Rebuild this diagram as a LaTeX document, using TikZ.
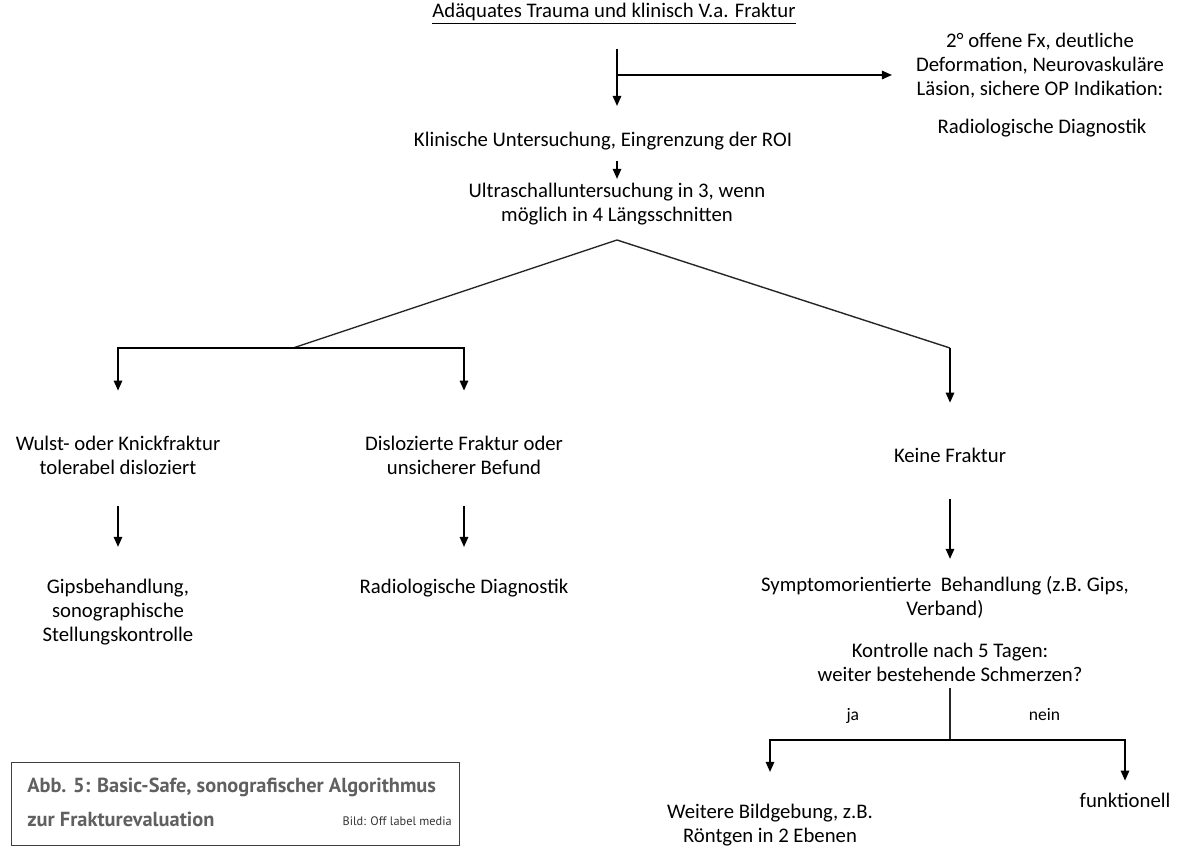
\documentclass[tikz,border=0pt]{standalone}
\usepackage{fontspec}
\setmainfont{Carlito}
\newfontfamily\capfont{PT Sans}
\usetikzlibrary{arrows.meta,positioning}
\definecolor{capgray}{RGB}{96,96,96}
\tikzset{
 txt/.style={align=center,font=\fontsize{11.8}{13.7}\selectfont,inner sep=1pt},
 yesno/.style={font=\fontsize{10}{12}\selectfont,inner sep=0pt,anchor=base},
 arrow/.style={-{Triangle[length=2mm,width=1.7mm]},line width=0.8pt,draw=black},
 branch/.style={line width=0.8pt,draw=black!85},
 capbox/.style={draw=black!75,line width=0.8pt,minimum width=8.96cm,minimum height=1.66cm},
 captext/.style={font=\capfont\bfseries\fontsize{11.6}{14}\selectfont,text=capgray,anchor=west,inner sep=0pt}}

\begin{document}
\begin{tikzpicture}[x=0.02cm,y=-0.02cm]
\useasboundingbox (0,0) rectangle (1185,848);
% upper part
\node[txt] (trauma) at (614,14) {\underline{Adäquates Trauma und klinisch V.a. Fraktur}};
\node[txt] (opind) at (1040,66) {2° offene Fx, deutliche\\Deformation, Neurovaskuläre\\Läsion, sichere OP Indikation:};
\node[txt] (opradio) at (1042,128) {Radiologische Diagnostik};
\node[txt] (klinik) at (603,141) {Klinische Untersuchung, Eingrenzung der ROI};
\node[txt] (us) at (617,204) {Ultraschalluntersuchung in 3, wenn\\möglich in 4 Längsschnitten};
\coordinate (split) at (617,75);
\coordinate (fork) at (617,240);
\coordinate (barL) at (293,348);
\coordinate (barR) at (950,348);
% befunde
\node[txt] (wulst) at (118,455) {Wulst- oder Knickfraktur\\tolerabel disloziert};
\node[txt] (disloz) at (464,455) {Dislozierte Fraktur oder\\unsicherer Befund};
\node[txt] (keine) at (950,455) {Keine Fraktur};
\node[txt] (gips) at (118,612) {Gipsbehandlung,\\sonographische\\Stellungskontrolle};
\node[txt] (radio) at (464,588) {Radiologische Diagnostik};
\node[txt] (sympt) at (945,597) {Symptomorientierte\ \ Behandlung (z.B. Gips,\\Verband)};
\node[txt] (kontr) at (950,662) {Kontrolle nach 5 Tagen:\\weiter bestehende Schmerzen?};
\coordinate (jn) at (950,740);
\node[txt] (weitere) at (770,825) {Weitere Bildgebung, z.B.\\Röntgen in 2 Ebenen};
\node[txt] (funkt) at (1125,800) {funktionell};
% caption
\node[capbox,anchor=north west] (caption) at (11,762) {};
\node[captext] (captitle) at (27,787) {Abb. 5: Basic-Safe, sonografischer Algorithmus};
\node[captext] (capsub) at (27,819) {zur Frakturevaluation};
\node[font=\capfont\fontsize{7}{8}\selectfont,text=black!80,anchor=east,inner sep=0pt] (capsrc) at (452,821) {Bild: Off label media};
% connectors
\draw[arrow,shorten <=4.4mm,shorten >=4.8mm] (trauma.south -| split) -- (klinik.north -| split);
\draw[arrow,shorten >=4.4mm] (split) -- (split -| opind.west);
\draw[arrow,shorten <=1.8mm,shorten >=0.4mm] (klinik.south -| split) -- (us.north -| split);
\draw[branch] (fork) -- (barL);
\draw[branch] (fork) -- (barR);
\draw[arrow,shorten >=8.6mm] (barL) -| (wulst.north);
\draw[arrow,shorten >=8.6mm] (barL) -| (disloz.north);
\draw[arrow,shorten >=8.6mm] (barR) -- (keine.north);
\draw[arrow,shorten <=6mm,shorten >=6mm] (wulst.south) -- (gips.north);
\draw[arrow,shorten <=6mm,shorten >=6mm] (disloz.south) -- (radio.north);
\draw[arrow,shorten <=7mm,shorten >=3mm] (keine.south) -- (sympt.north -| keine);
\draw[branch,shorten <=1mm] (kontr.south) -- (jn);
\draw[arrow,shorten >=6mm] (jn) -| node[pos=0.27,yesno,yshift=4mm]{ja} (weitere.north);
\draw[arrow,shorten >=2mm] (jn) -| node[pos=0.27,yesno,yshift=4mm]{nein} (funkt.north);
\end{tikzpicture}
\end{document}
